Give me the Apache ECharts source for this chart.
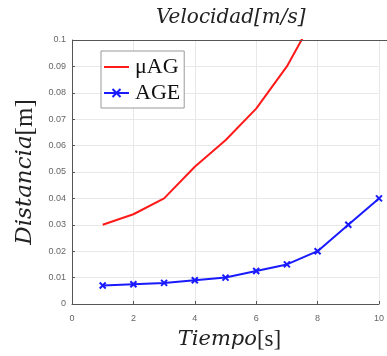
<!DOCTYPE html>
<html><head><meta charset="utf-8">
<script src="https://cdn.jsdelivr.net/npm/echarts@6/dist/echarts.min.js"></script>
<style>html,body{margin:0;padding:0;background:#fff}#c{width:387px;height:356px}</style>
</head><body><div id="c"></div>
<script>
const tiempo = [1, 2, 3, 4, 5, 6, 7, 8, 9, 10];
const muAG = [0.030, 0.034, 0.040, 0.052, 0.062, 0.074, 0.090, 0.111, 0.133, 0.156];
const AGE = [0.007, 0.0075, 0.008, 0.009, 0.010, 0.0125, 0.015, 0.020, 0.030, 0.040];
const xTicks = [0, 2, 4, 6, 8, 10];
const yTicks = [0, 0.01, 0.02, 0.03, 0.04, 0.05, 0.06, 0.07, 0.08, 0.09, 0.1];

const xPath = 'path://M0,0L10,10M10,0L0,10';
const chart = echarts.init(document.getElementById('c'));
const serif = '"DejaVu Serif", "Liberation Serif", serif';
const serif2 = '"Liberation Serif", "DejaVu Serif", serif';
chart.setOption({
  animation: false,
  title: {
    text: 'Velocidad[m/s]', left: 151, top: 3,
    textStyle: { fontFamily: serif, fontStyle: 'italic', fontWeight: 'normal', fontSize: 20, color: '#222' }
  },
  grid: { left: 72, top: 40, width: 317, height: 268, containLabel: false, show: false },
  legend: {
    left: 101, top: 51, orient: 'vertical', itemGap: 4, itemWidth: 25, itemHeight: 10,
    padding: [5, 4, 4, 2],
    backgroundColor: '#fff', borderColor: '#999', borderWidth: 1,
    textStyle: { fontFamily: serif2, fontSize: 22, color: '#111', padding: [0,0,0,1] },
    data: [{ name: 'μAG', itemStyle: { opacity: 0 } }, { name: 'AGE' }]
  },
  xAxis: {
    type: 'value', min: 0, max: 10, interval: 2,
    name: '{i|Tiempo}{n|[s]}', nameLocation: 'middle', nameGap: 24,
    nameTextStyle: { padding: [0, 0, 0, 8], rich: {
      i: { fontFamily: serif, fontStyle: 'italic', fontSize: 21, color: '#222' },
      n: { fontFamily: serif2, fontSize: 23, color: '#222' } } },
    axisLine: { show: true, lineStyle: { color: '#555', width: 1 } },
    axisTick: { show: true, inside: true, length: 3, lineStyle: { color: '#555' } },
    axisLabel: { fontFamily: '"Liberation Sans", Arial, sans-serif', fontSize: 9, color: '#666', margin: 10,
      formatter: v => xTicks.includes(v) ? String(v) : '' },
    splitLine: { show: true, lineStyle: { color: '#e8e8e8', width: 1 } }
  },
  yAxis: {
    type: 'value', min: 0, max: 0.1, interval: 0.01,
    name: '{i|Distancia}{n|[m]}', nameLocation: 'middle', nameGap: 30, nameRotate: 90,
    nameTextStyle: { rich: {
      i: { fontFamily: serif, fontStyle: 'italic', fontSize: 23, color: '#222' },
      n: { fontFamily: serif2, fontSize: 25, color: '#222' } } },
    axisLine: { show: true, lineStyle: { color: '#555', width: 1 } },
    axisTick: { show: true, inside: true, length: 3, lineStyle: { color: '#555' } },
    axisLabel: { fontFamily: '"Liberation Sans", Arial, sans-serif', fontSize: 9, color: '#666', margin: 6,
      formatter: v => { const t = yTicks.find(k => Math.abs(k - v) < 1e-9); return t === undefined ? '' : String(t); } },
    splitLine: { show: true, lineStyle: { color: '#e8e8e8', width: 1 } }
  },
  graphic: [{
    type: 'line', shape: { x1: 72, y1: 40.5, x2: 389, y2: 40.5 }, style: { stroke: '#555', lineWidth: 1 }, z: 10
  }],
  series: [
    { name: 'μAG', type: 'line', symbol: 'none', clip: true,
      data: tiempo.map((t, i) => [t, muAG[i]]),
      lineStyle: { color: '#ff1a1a', width: 2 }, itemStyle: { color: '#ff1a1a' } },
    { name: 'AGE', type: 'line', symbol: xPath, symbolSize: 6, showSymbol: true, clip: true,
      data: tiempo.map((t, i) => [t, AGE[i]]),
      lineStyle: { color: '#1a1aff', width: 2 },
      itemStyle: { color: 'none', borderColor: '#1a1aff', borderWidth: 2 } }
  ]
});
</script></body></html>
